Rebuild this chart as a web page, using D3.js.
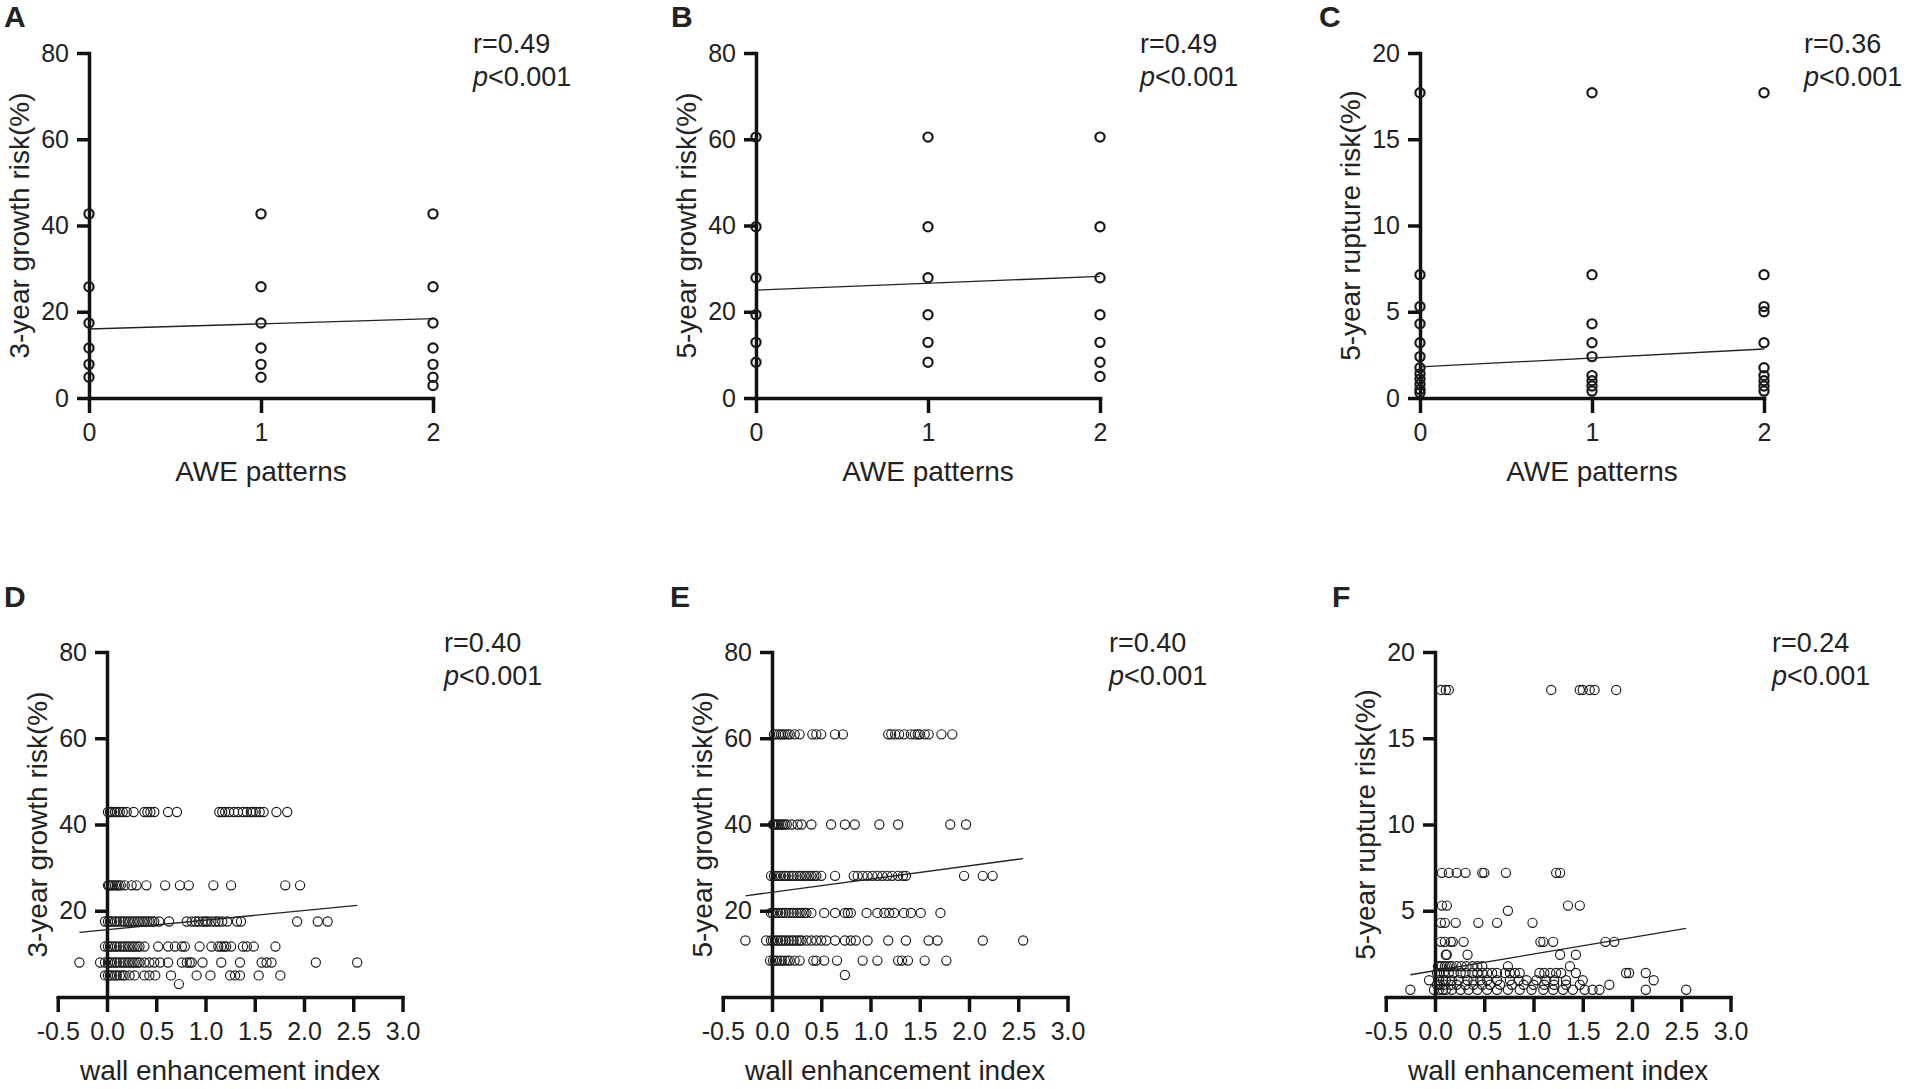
<!DOCTYPE html>
<html>
<head>
<meta charset="utf-8">
<script src="https://cdn.jsdelivr.net/npm/d3@7"></script>
<style>
  body { margin: 0; background: #fff; }
  text { font-family: "Liberation Sans", Arial, sans-serif; fill: #222; }
</style>
</head>
<body>
<div id="chart-container"></div>
<script>
const width = 1915;
const height = 1089;

// ---- data ----
const awePatterns = [0, 1, 2];
const weiTicks = [-0.5, 0, 0.5, 1, 1.5, 2, 2.5, 3];
const growthTicks = [0, 20, 40, 60, 80];
const ruptureTicks = [0, 5, 10, 15, 20];

const yTitles = ["3-year growth risk(%)", "5-year growth risk(%)", "5-year rupture risk(%)"];
const panelLetters = ["A", "B", "C", "D", "E", "F"];
const rValues = ["0.49", "0.49", "0.36", "0.40", "0.40", "0.24"];

// A/B/C: risk values per AWE pattern (0, 1, 2)
const growth3ByAwe = [
  [42.7, 25.8, 17.4, 11.6, 7.8, 4.8],
  [42.7, 25.8, 17.4, 11.6, 7.8, 4.8],
  [42.7, 25.8, 17.4, 11.6, 7.8, 4.8, 2.9]
];
const growth5ByAwe = [
  [60.5, 39.7, 27.9, 19.3, 12.9, 8.3],
  [60.5, 39.7, 27.9, 19.3, 12.9, 8.3],
  [60.5, 39.7, 27.9, 19.3, 12.9, 8.3, 5.0]
];
const rupture5ByAwe = [
  [17.7, 7.15, 5.3, 4.3, 3.2, 2.4, 1.75, 1.4, 1.1, 0.8, 0.5, 0.3],
  [17.7, 7.15, 4.3, 3.2, 2.4, 1.3, 1.0, 0.7, 0.4],
  [17.7, 7.15, 5.3, 5.0, 3.2, 1.75, 1.3, 1.0, 0.7, 0.4]
];

// D/E/F: risk levels and the wall enhancement index of each point on that level
const growth3Levels = [42.9, 25.9, 17.5, 11.7, 8.0, 5.0, 3.0];
const growth3Wei = [
  [0.01,0.03,0.05,0.08,0.1,0.13,0.16,0.2,0.27,0.38,0.41,0.44,0.48,0.62,0.71,1.14,1.17,1.2,1.24,1.29,1.33,1.38,1.42,1.46,1.48,1.51,1.55,1.59,1.72,1.83],
  [0.01,0.02,0.04,0.06,0.08,0.1,0.12,0.14,0.18,0.25,0.3,0.4,0.59,0.74,0.83,1.08,1.26,1.81,1.96],
  [-0.02,0.01,0.03,0.05,0.08,0.1,0.13,0.16,0.18,0.21,0.23,0.26,0.28,0.31,0.33,0.36,0.38,0.41,0.43,0.46,0.48,0.53,0.63,0.81,0.86,0.9,0.93,0.97,1.0,1.02,1.06,1.1,1.13,1.17,1.22,1.32,1.36,1.93,2.14,2.24],
  [-0.02,0.01,0.03,0.05,0.08,0.1,0.13,0.16,0.18,0.21,0.23,0.26,0.28,0.31,0.33,0.38,0.52,0.62,0.69,0.76,0.79,0.94,1.06,1.13,1.16,1.19,1.21,1.26,1.38,1.42,1.49,1.71],
  [-0.28,-0.07,-0.02,0.01,0.03,0.05,0.08,0.1,0.13,0.16,0.18,0.21,0.23,0.26,0.28,0.31,0.33,0.38,0.43,0.48,0.54,0.62,0.76,0.81,0.84,0.86,0.97,1.16,1.35,1.57,1.62,1.67,2.12,2.54],
  [-0.02,0.01,0.03,0.05,0.08,0.1,0.13,0.16,0.18,0.23,0.28,0.38,0.43,0.49,0.65,0.91,1.05,1.25,1.3,1.35,1.54,1.76],
  [0.73]
];
const growth5Levels = [60.9, 40.0, 28.1, 19.5, 13.1, 8.45, 5.1];
const growth5Wei = [
  [0.02,0.04,0.07,0.09,0.11,0.13,0.16,0.18,0.23,0.28,0.41,0.45,0.5,0.64,0.72,1.18,1.21,1.25,1.29,1.34,1.41,1.45,1.48,1.5,1.55,1.59,1.72,1.83],
  [0.01,0.02,0.03,0.05,0.07,0.09,0.11,0.13,0.15,0.2,0.26,0.3,0.4,0.6,0.74,0.84,1.09,1.28,1.81,1.97],
  [-0.01,0.02,0.04,0.07,0.09,0.12,0.14,0.17,0.2,0.22,0.25,0.28,0.3,0.33,0.35,0.38,0.4,0.43,0.45,0.5,0.64,0.83,0.87,0.92,0.97,1.02,1.07,1.12,1.17,1.22,1.28,1.33,1.36,1.95,2.14,2.24],
  [-0.01,0.01,0.04,0.06,0.09,0.11,0.14,0.17,0.2,0.22,0.25,0.28,0.3,0.33,0.35,0.4,0.53,0.64,0.74,0.77,0.8,0.96,1.07,1.14,1.19,1.24,1.34,1.41,1.51,1.71],
  [-0.27,-0.06,-0.01,0.01,0.04,0.06,0.09,0.11,0.14,0.17,0.2,0.22,0.25,0.28,0.3,0.35,0.4,0.45,0.5,0.55,0.64,0.74,0.8,0.85,0.97,1.18,1.36,1.59,1.68,2.14,2.55],
  [-0.02,0.01,0.03,0.05,0.08,0.1,0.13,0.16,0.18,0.23,0.28,0.42,0.45,0.53,0.66,0.92,1.07,1.28,1.32,1.38,1.55,1.77],
  [0.74]
];
const rupture5Levels = [17.8, 7.2, 5.3, 5.0, 4.3, 3.2, 2.45, 1.78, 1.39, 0.97, 0.71, 0.42];
const rupture5Wei = [
  [0.06,0.11,0.14,1.18,1.47,1.5,1.57,1.62,1.84],
  [0.07,0.14,0.22,0.31,0.48,0.5,0.72,1.23,1.27],
  [0.07,0.12,1.35,1.47],
  [0.74],
  [0.06,0.1,0.21,0.44,0.63,0.99],
  [0.06,0.1,0.16,0.18,0.29,1.07,1.1,1.2,1.73,1.82],
  [0.11,0.12,0.33,1.27,1.43],
  [0.03,0.05,0.07,0.1,0.12,0.15,0.17,0.22,0.27,0.32,0.38,0.43,0.48,0.74,1.37],
  [0.02,0.04,0.09,0.14,0.19,0.26,0.31,0.38,0.43,0.48,0.53,0.58,0.63,0.71,0.76,0.81,0.86,1.06,1.11,1.17,1.23,1.28,1.43,1.94,1.97,2.14],
  [-0.06,0.04,0.08,0.11,0.17,0.24,0.33,0.39,0.46,0.53,0.63,0.76,0.85,0.93,1.03,1.13,1.21,1.33,1.5,2.22],
  [0.02,0.05,0.09,0.16,0.22,0.31,0.39,0.48,0.56,0.66,0.78,0.9,1.0,1.11,1.21,1.33,1.47,1.77],
  [-0.25,-0.01,0.04,0.08,0.11,0.17,0.26,0.34,0.43,0.53,0.63,0.74,0.86,0.98,1.1,1.2,1.3,1.4,1.52,1.6,1.67,2.14,2.55]
];

// fitted lines [intercept, slope] as drawn in the figure
const fitA = [16.0, 1.2];
const fitB = [25.0, 1.6];
const fitC = [1.8, 0.52];
const fitD = [15.6, 2.22];
const fitE = [24.3, 3.06];
const fitF = [1.53, 0.96];

// ---- build point lists ----
const fromColumns = (cols) =>
  cols.flatMap((vals, i) => vals.map((v) => ({ x: awePatterns[i], y: v })));
const fromLevels = (levels, xs) =>
  levels.flatMap((lv, i) => xs[i].map((x) => ({ x: x, y: lv })));

const svg = d3
  .select("#chart-container")
  .append("svg")
  .attr("width", width)
  .attr("height", height);

svg.append("rect").attr("width", width).attr("height", height).attr("fill", "#fff");

const panels = [
  { letter: 0, axisX: 89, letterX: 4, top: true, yMax: 80, yTicks: growthTicks, title: yTitles[0],
    points: fromColumns(growth3ByAwe), fit: fitA },
  { letter: 1, axisX: 756, letterX: 671, top: true, yMax: 80, yTicks: growthTicks, title: yTitles[1],
    points: fromColumns(growth5ByAwe), fit: fitB },
  { letter: 2, axisX: 1420, letterX: 1319, top: true, yMax: 20, yTicks: ruptureTicks, title: yTitles[2],
    points: fromColumns(rupture5ByAwe), fit: fitC },
  { letter: 3, axisX: 107, letterX: 4, top: false, yMax: 80, yTicks: growthTicks.slice(1), title: yTitles[0],
    points: fromLevels(growth3Levels, growth3Wei), fit: fitD },
  { letter: 4, axisX: 772, letterX: 670, top: false, yMax: 80, yTicks: growthTicks.slice(1), title: yTitles[1],
    points: fromLevels(growth5Levels, growth5Wei), fit: fitE },
  { letter: 5, axisX: 1435, letterX: 1332, top: false, yMax: 20, yTicks: ruptureTicks.slice(1), title: yTitles[2],
    points: fromLevels(rupture5Levels, rupture5Wei), fit: fitF }
];

panels.forEach((p) => {
  const y0 = p.top ? 398 : 997;
  const y1 = p.top ? 53 : 652;
  const g = svg.append("g");

  const x = p.top
    ? d3.scaleLinear().domain([0, 2]).range([p.axisX, p.axisX + 344])
    : d3.scaleLinear().domain([-0.5, 3]).range([p.axisX - 49.25, p.axisX + 295.5]);
  const y = d3.scaleLinear().domain([0, p.yMax]).range([y0, y1]);

  // axes
  const xAxis = d3
    .axisBottom(x)
    .tickValues(p.top ? awePatterns : weiTicks)
    .tickFormat(p.top ? d3.format("d") : (d) => d.toFixed(1))
    .tickSize(15)
    .tickSizeOuter(0)
    .tickPadding(10);
  const yAxis = d3
    .axisLeft(y)
    .tickValues(p.yTicks)
    .tickSize(12)
    .tickSizeOuter(0)
    .tickPadding(8);

  [
    g.append("g").attr("transform", `translate(0,${y0})`).call(xAxis),
    g.append("g").attr("transform", `translate(${p.axisX},0)`).call(yAxis)
  ].forEach((ax) => {
    ax.select(".domain").attr("stroke", "#111").attr("stroke-width", 3.5).attr("stroke-linecap", "square");
    ax.selectAll(".tick line").attr("stroke", "#111").attr("stroke-width", 3.5);
    ax.selectAll(".tick text")
      .attr("fill", "#222")
      .style("font-family", '"Liberation Sans", Arial, sans-serif')
      .style("font-size", "25px");
  });

  // points
  g.append("g")
    .selectAll("circle")
    .data(p.points)
    .join("circle")
    .attr("cx", (d) => x(d.x))
    .attr("cy", (d) => y(d.y))
    .attr("r", 4.6)
    .attr("fill", "none")
    .attr("stroke", "#1a1a1a")
    .attr("stroke-width", p.top ? 2.2 : 1.15);

  // fitted line over the x extent of the points
  const ext = d3.extent(p.points, (d) => d.x);
  g.append("line")
    .attr("x1", x(ext[0]))
    .attr("x2", x(ext[1]))
    .attr("y1", y(p.fit[0] + p.fit[1] * ext[0]))
    .attr("y2", y(p.fit[0] + p.fit[1] * ext[1]))
    .attr("stroke", "#222")
    .attr("stroke-width", 1.3);

  // titles
  g.append("text")
    .attr("transform", `translate(${p.axisX - 60},${(y0 + y1) / 2}) rotate(-90)`)
    .attr("text-anchor", "middle")
    .style("font-size", "28px")
    .text(p.title);

  g.append("text")
    .attr("x", p.top ? x(1) : x(1.25))
    .attr("y", y0 + 83)
    .attr("text-anchor", "middle")
    .style("font-size", "28px")
    .text(p.top ? "AWE patterns" : "wall enhancement index");

  g.append("text")
    .attr("x", p.letterX)
    .attr("y", p.top ? 27 : 607)
    .style("font-size", "30px")
    .style("font-weight", "bold")
    .attr("fill", "#000")
    .text(panelLetters[p.letter]);

  const ax = p.axisX + (p.top ? 384 : 337);
  const ay = p.top ? 53 : 652;
  g.append("text")
    .attr("x", ax)
    .attr("y", ay)
    .style("font-size", "27px")
    .text("r=" + rValues[p.letter]);
  const pt = g.append("text").attr("x", ax).attr("y", ay + 33).style("font-size", "27px");
  pt.append("tspan").style("font-style", "italic").text("p");
  pt.append("tspan").text("<0.001");
});
</script>
</body>
</html>
